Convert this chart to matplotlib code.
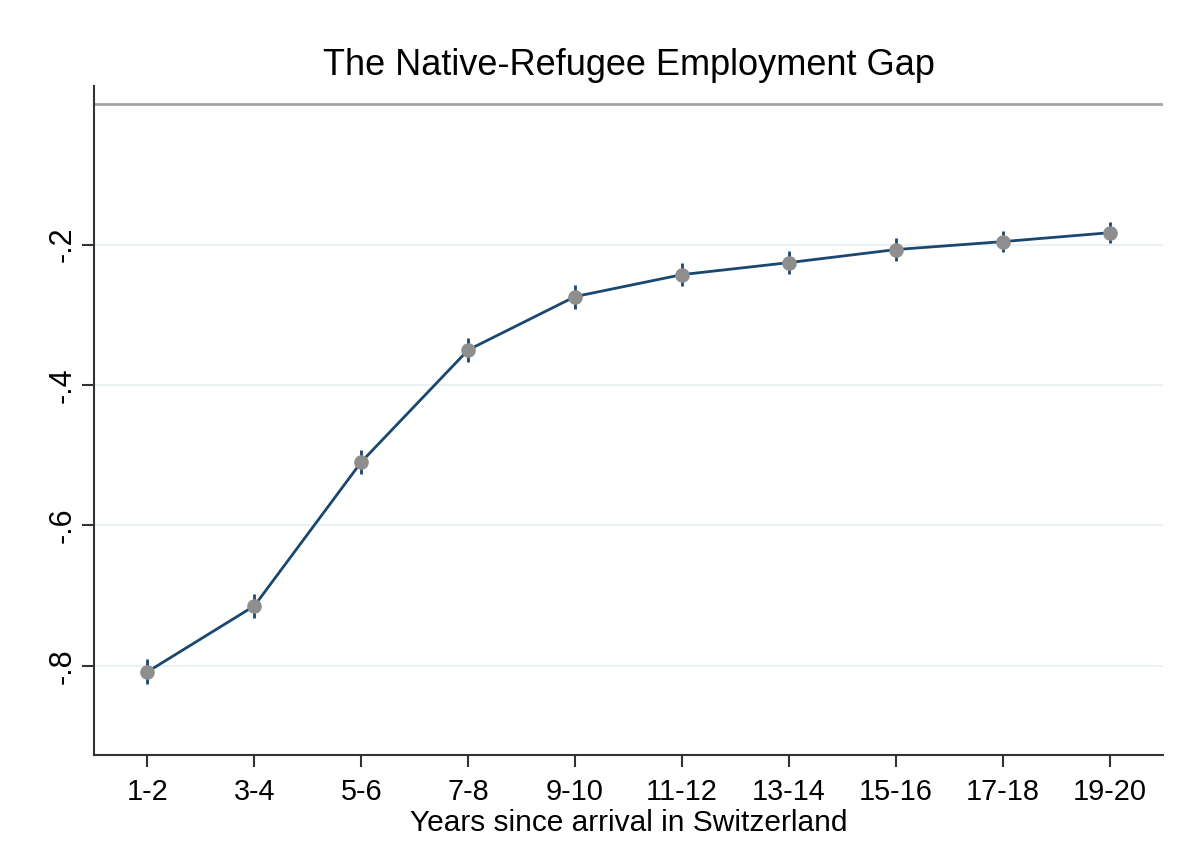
import matplotlib
matplotlib.use("Agg")
import matplotlib.pyplot as plt
import numpy as np

plt.rcParams['font.family'] = ['Liberation Sans', 'DejaVu Sans']

periods = ["1-2", "3-4", "5-6", "7-8", "9-10", "11-12", "13-14", "15-16", "17-18", "19-20"]
gap = [-0.8085, -0.7146, -0.5096, -0.350, -0.274, -0.2427, -0.2256, -0.207, -0.1957, -0.183]
ci_half = [0.018, 0.017, 0.017, 0.017, 0.017, 0.016, 0.016, 0.016, 0.015, 0.015]
yticks = [-0.8, -0.6, -0.4, -0.2]
ytick_labels = ["-.8", "-.6", "-.4", "-.2"]

navy = "#1a476f"
marker_gray = "#8e8e8e"

fig = plt.figure(figsize=(11.87, 8.66), dpi=100)
ax = fig.add_axes([94 / 1187, 1 - 755 / 866, (1163 - 94) / 1187, (755 - 86) / 866])

x = np.arange(1, len(periods) + 1)
g = np.array(gap)
e = np.array(ci_half)

ax.axhline(0, color="#a6a6a6", lw=2.0, zorder=2)
for yt in yticks:
    ax.axhline(yt, color="#e8f0f2", lw=1.3, zorder=1)

ax.vlines(x, g - e, g + e, color=navy, lw=2.0, zorder=3)
ax.plot(x, g, color=navy, lw=2.0, zorder=4)
ax.plot(x, g, "o", color=marker_gray, ms=9.5, mec=marker_gray, zorder=5)

ax.set_xlim(0.5, 10.5)
ax.set_ylim(-0.927, 0.026)
ax.set_xticks(x)
ax.set_xticklabels(periods)
ax.set_yticks(yticks)
ax.set_yticklabels(ytick_labels, rotation=90, va="center")

for s in ["top", "right"]:
    ax.spines[s].set_visible(False)
for s in ["left", "bottom"]:
    ax.spines[s].set_linewidth(1.5)
    ax.spines[s].set_color("#333333")

ax.tick_params(axis="both", length=8.5, width=1.5, color="#333333")
ax.tick_params(axis="x", labelsize=20.8, pad=8)
ax.tick_params(axis="y", labelsize=22, pad=3)

ax.set_xlabel("Years since arrival in Switzerland", fontsize=21.5, labelpad=2)
ax.set_title("The Native-Refugee Employment Gap", fontsize=26, pad=8)

fig.savefig("out.png", dpi=100)
